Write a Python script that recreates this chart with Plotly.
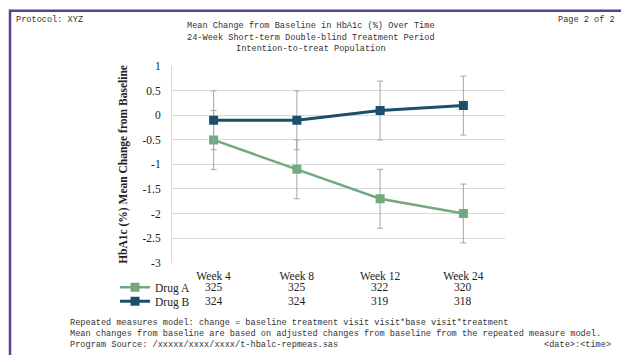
import plotly.graph_objects as go

# ---------------- data ----------------
weeks = ["Week 4", "Week 8", "Week 12", "Week 24"]
drug_a_mean = [-0.5, -1.1, -1.7, -2.0]
drug_a_err = [0.6, 0.6, 0.6, 0.6]
drug_b_mean = [-0.1, -0.1, 0.1, 0.2]
drug_b_err = [0.6, 0.6, 0.6, 0.6]
drug_a_n = [325, 325, 322, 320]
drug_b_n = [324, 324, 319, 318]
series_names = ["Drug A", "Drug B"]
y_ticks = [1, 0.5, 0, -0.5, -1, -1.5, -2, -2.5, -3]

header_left = "Protocol: XYZ"
header_right = "Page 2 of 2"
title_lines = [
    "Mean Change from Baseline in HbA1c (%) Over Time",
    "24-Week Short-term Double-blind Treatment Period",
    "Intention-to-treat Population",
]
footer_lines = [
    "Repeated measures model: change = baseline treatment visit visit*base visit*treatment",
    "Mean changes from baseline are based on adjusted changes from baseline from the repeated measure model.",
    "Program Source: /xxxxx/xxxx/xxxx/t-hbalc-repmeas.sas",
]
footer_right = "<date>:<time>"

W, H = 621, 355
GREEN = "#72a980"
BLUE = "#1b4f6b"
ERR = "#a6a6a6"
MONO = "Liberation Mono, Courier New, monospace"
SERIF = "Liberation Serif, Times New Roman, serif"


def py(y):
    return 1 - y / H


def px(x):
    return x / W


xs = list(range(len(weeks)))

fig = go.Figure()
fig.add_trace(go.Scatter(
    x=xs, y=drug_a_mean, name=series_names[0], mode="lines+markers", legend="legend",
    line=dict(color=GREEN, width=2.5),
    marker=dict(symbol="square", size=9, color=GREEN),
    error_y=dict(type="data", array=drug_a_err, color=ERR, thickness=1, width=3),
))
fig.add_trace(go.Scatter(
    x=xs, y=drug_b_mean, name=series_names[1], mode="lines+markers", legend="legend2",
    line=dict(color=BLUE, width=3),
    marker=dict(symbol="square", size=9, color=BLUE),
    error_y=dict(type="data", array=drug_b_err, color=ERR, thickness=1, width=3),
))

txt_font = dict(family=MONO, size=8.6, color="#333")
annotations = []
annotations.append(dict(text=header_left, x=px(14), y=py(14), xref="paper", yref="paper",
                        xanchor="left", yanchor="middle", showarrow=False, font=txt_font))
annotations.append(dict(text=header_right, x=px(617), y=py(14), xref="paper", yref="paper",
                        xanchor="right", yanchor="middle", showarrow=False, font=txt_font))
for i, t in enumerate(title_lines):
    annotations.append(dict(text=t, x=px(311), y=py(21 + 12 * i), xref="paper", yref="paper",
                            xanchor="center", yanchor="middle", showarrow=False, font=txt_font))
for i, t in enumerate(footer_lines):
    annotations.append(dict(text=t, x=px(68), y=py(328 + 11.5 * i), xref="paper", yref="paper",
                            xanchor="left", yanchor="middle", showarrow=False, font=txt_font))
annotations.append(dict(text=footer_right, x=px(613), y=py(351), xref="paper", yref="paper",
                        xanchor="right", yanchor="middle", showarrow=False, font=txt_font))
# counts table under the axis
for row, counts in enumerate([drug_a_n, drug_b_n]):
    for i, n in enumerate(counts):
        annotations.append(dict(text=str(n), x=xs[i], y=py(291 + 14.5 * row), xref="x", yref="paper",
                                xanchor="center", yanchor="middle", showarrow=False,
                                font=dict(family=SERIF, size=11.5, color="#222")))

shapes = [
    dict(type="line", xref="paper", yref="paper", x0=px(9), x1=1.02, y0=py(5), y1=py(5),
         line=dict(color="#5e3f93", width=2.5)),
    dict(type="line", xref="paper", yref="paper", x0=px(10), x1=px(10), y0=py(4), y1=-0.02,
         line=dict(color="#5e3f93", width=2.5)),
]

leg_common = dict(xanchor="left", yanchor="middle",
                  font=dict(family=SERIF, size=11.5, color="#222"),
                  itemwidth=30, bgcolor="rgba(0,0,0,0)", borderwidth=0)

fig.update_layout(
    width=W, height=H,
    margin=dict(l=0, r=0, t=0, b=0),
    paper_bgcolor="white", plot_bgcolor="white",
    showlegend=True,
    legend=dict(x=px(115), y=py(291), **leg_common),
    legend2=dict(x=px(115), y=py(305.5), **leg_common),
    annotations=annotations,
    shapes=shapes,
    xaxis=dict(domain=[px(172), px(505)], range=[-0.5, 3.5],
               tickmode="array", tickvals=xs, ticktext=weeks,
               showgrid=False, zeroline=False, showline=False, ticks="",
               ticklabelstandoff=5,
               tickfont=dict(family=SERIF, size=11.5, color="#222")),
    yaxis=dict(domain=[py(265.5), py(62.5)], range=[-3, 1],
               tickmode="array", tickvals=y_ticks, ticktext=[str(v) for v in y_ticks],
               showgrid=True, gridcolor="#d9d9d9", gridwidth=1,
               zeroline=False, showline=True, linecolor="#d9d9d9", linewidth=1,
               ticks="", ticklabelstandoff=8,
               tickfont=dict(family=SERIF, size=11.5, color="#222"),
               title=dict(text="<b>HbA1c (%) Mean Change from Baseline</b>", standoff=12,
                          font=dict(family=SERIF, size=11.5, color="#222"))),
)

fig.write_html("out.html", config={"displayModeBar": False},
               post_script="document.body.style.margin='0';document.body.style.padding='0';"
                           "document.documentElement.style.overflow='hidden';")
